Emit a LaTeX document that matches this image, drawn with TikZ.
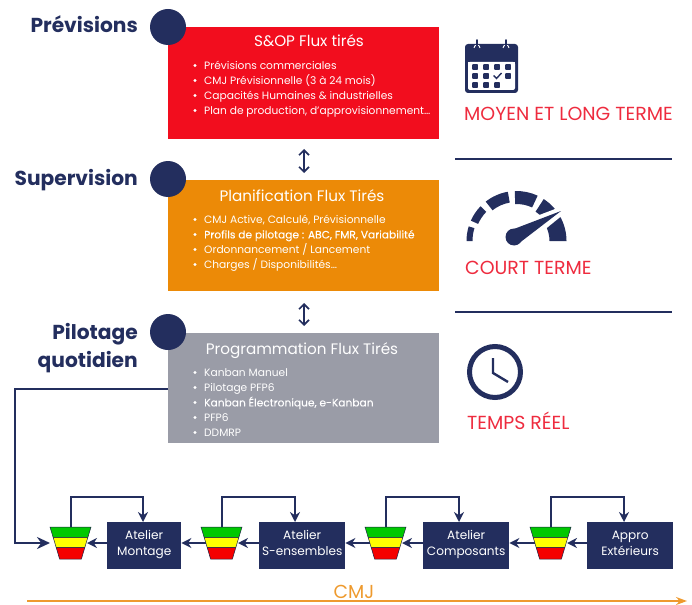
\documentclass[tikz,border=0pt]{standalone}
\usepackage{fontspec}
\setmainfont{Poppins}
\newfontfamily\medfont[FakeBold=0.1]{Poppins}
\usetikzlibrary{arrows.meta,calc}
\definecolor{navy}{HTML}{232E5E}
\definecolor{boxred}{HTML}{F20D1E}
\definecolor{boxorange}{HTML}{EC8A07}
\definecolor{boxgrey}{HTML}{9A9CA7}
\definecolor{termred}{HTML}{EE2B3E}
\definecolor{cmj}{HTML}{EE9A2E}
\definecolor{fgreen}{HTML}{00C800}
\definecolor{fyellow}{HTML}{FFFF00}
\definecolor{fred}{HTML}{F50000}
\tikzset{
  x=1pt,y=-1pt,
  level/.style={fill=#1,minimum width=271pt,anchor=north west,inner sep=0pt,draw=none},
  blockhead/.style={text=white,font=\fontsize{15.2}{18}\selectfont,inner sep=0pt,anchor=base},
  item/.style={text=white,font=\fontsize{10.65}{12}\selectfont,anchor=base west,inner sep=0pt},
  bul/.style={circle,fill=white,inner sep=0pt,minimum size=3.2pt},
  dotc/.style={circle,fill=navy,inner sep=0pt,minimum size=36pt},
  levlabel/.style={text=navy,font=\bfseries\fontsize{20.2}{24}\selectfont,anchor=base east,inner sep=0pt},
  term/.style={text=termred,font=\fontsize{18.9}{22}\selectfont,anchor=base west,inner sep=0pt},
  shop/.style={fill=navy,text=white,align=center,inner sep=0pt,minimum height=47pt,anchor=north west,text depth=5pt,font=\fontsize{12.1}{16}\selectfont},
  loopline/.style={navy,line width=1.7pt,-{Stealth[length=10pt,width=10pt]}},
  flow/.style={navy,line width=2pt,-{Stealth[length=10pt,width=10pt]}},
  feed/.style={navy,line width=2.4pt,-{Stealth[length=13pt,width=12pt]}},
  updown/.style={navy,line width=1.6pt,{Straight Barb[length=5pt,width=10pt]}-{Straight Barb[length=5pt,width=10pt]}},
  sep/.style={navy,line width=1.8pt},
}
\newcommand{\funnelat}[2]{%
  \fill[fgreen,draw=navy!70!black,line width=.5pt] (#2,527) -- ++(41,0) -- ++(-3.2,10.5) -- ++(-34.6,0) -- cycle;
  \fill[fyellow,draw=navy!70!black,line width=.5pt] (#2+3.2,537.5) -- ++(34.6,0) -- ++(-3,10) -- ++(-28.6,0) -- cycle;
  \fill[fred,draw=navy!70!black,line width=.5pt] (#2+6.2,547.5) -- ++(28.6,0) -- ++(-3.4,11.5) -- ++(-21.8,0) -- cycle;
  \coordinate (#1t) at (#2+21,527);
  \coordinate (#1l) at (#2+4.5,543);
  \coordinate (#1r) at (#2+37,543);
}
\begin{document}
\begin{tikzpicture}
\useasboundingbox (0,0) rectangle (692,604);
% blocks
\node[level=boxred,minimum height=112pt] (sop) at (168,27) {};
\node[level=boxorange,minimum height=111pt] (plan) at (168,180) {};
\node[level=boxgrey,minimum height=110pt] (prog) at (168,333) {};
\node[blockhead] (sopt) at (309,47) {S\&OP Flux tirés};
\node[blockhead] (plant) at (302,201) {Planification Flux Tirés};
\node[blockhead] (progt) at (302,354) {Programmation Flux Tirés};
% items
\foreach \n/\y/\t in {a/65/{Prévisions commerciales},b/80/{CMJ Prévisionnelle (3 à 24 mois)},c/95/{Capacités Humaines \& industrielles},d/110/{Plan de production, d’approvisionnement…},
 e/219/{CMJ Active, Calculé, Prévisionnelle},f/234/{\medfont Profils de pilotage : ABC, FMR, Variabilité},g/249/{Ordonnancement / Lancement},h/264/{Charges / Disponibilités…},
 i/372/{Kanban Manuel},j/387/{Pilotage PFP6},k/402/{\medfont Kanban Électronique, e-Kanban},l/417/{PFP6},m/432/{DDMRP}}{
  \node[item] (it\n) at (204,\y+4.4) {\t};
  \node[bul] (bu\n) at (195,\y+.5) {};
}
% circles and labels
\node[dotc] (c1) at (168,27) {};
\node[dotc] (c2) at (168,179) {};
\node[dotc] (c3) at (168,332) {};
\node[levlabel] (l1) at (138,33) {Prévisions};
\node[levlabel] (l2) at (138,185) {Supervision};
\node[levlabel] (l3) at (138,339) {Pilotage};
\node[levlabel] (l4) at (138,367) {quotidien};
% up-down arrows
\coordinate (ud1) at (304,149); \coordinate (ud2) at (304,173);
\coordinate (ud3) at (304,303); \coordinate (ud4) at (304,326);
\draw[updown] (ud1) -- (ud2);
\draw[updown] (ud3) -- (ud4);
% right column
\node[term] (t1) at (464,121) {MOYEN ET LONG TERME};
\node[term] (t2) at (465,274) {COURT TERME};
\node[term] (t3) at (467,429) {TEMPS RÉEL};
\coordinate (s1a) at (455,159); \coordinate (s1b) at (672,159);
\coordinate (s2a) at (455,312); \coordinate (s2b) at (672,312);
\draw[sep] (s1a) -- (s1b);
\draw[sep] (s2a) -- (s2b);
% calendar
\fill[navy,rounded corners=3pt] (465,44) rectangle (518,93);
\fill[white,rounded corners=2pt] (468,62) -- (515,62) -- (515,90) -- (468,90) -- cycle;
\fill[white] (468,62) rectangle (515,70);
\foreach \xx in {477,506}{
  \draw[white,line width=.9pt] (\xx-3,48) arc (180:360:3);
  \draw[navy,line width=1.8pt,line cap=round] (\xx,40) -- (\xx,50);
}
\foreach \xx/\yy in {475/67,486/67,497/67,508/67,475/76,486/76,508/76,475/85,486/85,497/85}{
  \fill[navy,rounded corners=.8pt] (\xx-2.9,\yy-2.9) rectangle (\xx+2.9,\yy+2.9);
}
\draw[navy,line width=1.4pt] (493.5,75.5) -- (496.5,78.5) -- (501.5,73);
% gauge
\begin{scope}[shift={(516.5,241)},y=1pt]
\foreach \a/\b/\th in {180/163/6,156/136/8,128/100/11,92/65/13,57/40/15,30/0/17}{
  \fill[navy] (\a:50) arc (\a:\b:50) -- (\b:50-\th) arc (\b:\a:50-\th) -- cycle;
}
\end{scope}
\fill[white] (505,228) -- (563,206) -- (564,214) -- (522,248) -- cycle;
\fill[navy] (514,237) circle (8.5);
\fill[navy] (510,230.5) -- (561,211) -- (518,244) -- cycle;
% clock
\draw[navy,line width=5pt] (495,372) circle (25.5);
\draw[navy,line width=2.4pt] (493,358) -- (493,373) -- (508,382);
% shop row
\node[shop,minimum width=74pt] (mont) at (107,522) {Atelier\\Montage};
\node[shop,minimum width=86pt] (sens) at (259,522) {Atelier\\S-ensembles};
\node[shop,minimum width=86pt] (comp) at (423,522) {Atelier\\Composants};
\node[shop,minimum width=86pt] (appr) at (587,522) {Appro\\Extérieurs};
\funnelat{fa}{50}
\funnelat{fb}{201}
\funnelat{fc}{365}
\funnelat{fd}{530}
% loops
\foreach \f/\b/\xa/\xb in {fa/mont/71/143,fb/sens/222/295,fc/comp/386/459,fd/appr/551/624}{
  \coordinate (lpa) at (\xa,497);
  \coordinate (lpb) at (\xb,497);
  \draw[loopline] (\f t) -- (lpa) -- (lpb) -- (lpb |- \b.north);
}
% flows
\draw[flow] (mont.west |- far) -- (far);
\draw[flow] (fbl) -- (mont.east |- fbl);
\draw[flow] (sens.west |- fbr) -- (fbr);
\draw[flow] (fcl) -- (sens.east |- fcl);
\draw[flow] (comp.west |- fcr) -- (fcr);
\draw[flow] (fdl) -- (comp.east |- fdl);
\draw[flow] (appr.west |- fdr) -- (fdr);
% feedback
\coordinate (corner) at (15,389);
\coordinate (feedend) at (50,543);
\draw[feed] (prog.west |- corner) -- (corner) |- (feedend);
% CMJ
\node[text=cmj,font=\fontsize{18.8}{22}\selectfont,inner sep=0pt] (cmjl) at (354,592) {CMJ};
\coordinate (ca) at (27,601); \coordinate (cb) at (687,601);
\draw[cmj,line width=1.6pt,-{Stealth[length=11pt,width=8pt]}] (ca) -- (cb);
\end{tikzpicture}
\end{document}
